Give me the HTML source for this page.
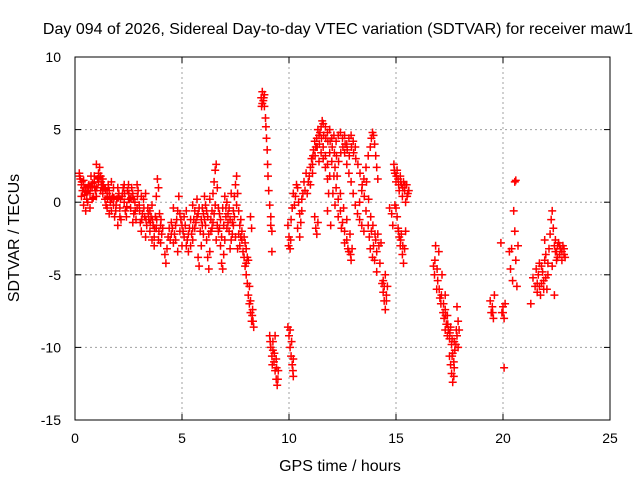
<!DOCTYPE html>
<html><head><meta charset="utf-8"><style>
body{margin:0;background:#fff;}
svg{display:block;font-family:"Liberation Sans",sans-serif;}
</style></head><body>
<svg id="chart" width="640" height="480">
<text x="338" y="34" font-size="16" text-anchor="middle">Day 094 of 2026, Sidereal Day-to-day VTEC variation (SDTVAR) for receiver maw1</text>
<g id="grid"></g><g id="ticks"></g><g id="marks"></g>
<rect x="75" y="57" width="535" height="363" fill="none" stroke="#000" stroke-width="1"/>
<text x="340" y="471" font-size="16" text-anchor="middle">GPS time / hours</text>
<text x="0" y="0" font-size="16" text-anchor="middle" transform="translate(19,238) rotate(-90)">SDTVAR / TECUs</text>
</svg>
<script>
const xTicks=[0,5,10,15,20,25];
const yTicks=[10,5,0,-5,-10,-15];
const seg1=[[0.2,2],[0.25,1.6],[0.3,1.2],[0.35,0.8],[0.4,1.5],[0.45,0.5],[0.5,1],[0.55,0.2],[0.6,0.8],[0.65,1.2],[0.7,0.6],[0.75,1.8],[0.8,1],[0.85,0.3],[0.9,1.4],[0.95,0.8],[1.0,0.4],[1.05,1.6],[1.1,2],[1.15,2.4],[1.2,1.8],[1.25,1.2],[1.3,0.6],[1.35,1],[1.4,0.2],[1.45,-0.2],[1.5,0.6],[1.55,1.2],[1.6,0.8],[1.65,0],[1.7,-0.6],[1.75,0.4],[1.8,-0.2],[1.85,-1],[1.9,-0.6],[1.95,0.2],[2.0,1],[2.05,0.6],[2.1,-0.4],[2.15,-1.2],[2.2,0.4],[2.25,1],[2.3,0],[2.35,-0.6],[2.4,-1],[2.45,0.8],[2.5,1.2],[2.55,0.2],[2.6,-0.4],[2.65,1],[2.7,0.6],[2.75,-0.8],[2.8,0],[2.85,-1.2],[2.9,-0.4],[2.95,0.8],[3.0,-0.2],[3.05,-1.4],[3.1,-2],[3.15,-0.8],[3.2,0.2],[3.25,-1],[3.3,-2.4],[3.35,-1.6],[3.4,-0.4],[3.45,-1.2],[3.5,-2],[3.55,-1],[3.6,-0.2],[3.65,-1.6],[3.7,-2.4],[3.75,-1],[3.8,0.4],[3.85,1.6],[3.9,1],[3.95,-0.8],[4.0,-1.6],[4.05,-2.2],[4.1,-1.8]];
const seg2=[[0.3,0.4],[0.4,-0.2],[0.5,-0.6],[0.6,0],[0.7,-0.4],[0.8,0.2],[0.9,1.8],[1.0,2.6],[1.1,1.4],[1.2,0.8],[1.3,1.6],[1.5,-0.4],[1.6,-0.8],[1.7,1.4],[1.8,1],[2.0,-1.6],[2.1,-1],[2.3,1.2],[2.5,0.2],[2.7,-1.4],[2.9,1.2],[3.1,0.4],[3.3,0.6],[3.5,-0.6],[3.6,-2.6],[3.7,-3],[3.8,-1.8],[3.9,-2.6],[4.0,-2.8],[4.2,-3.6],[4.25,-4.2],[4.3,-3.2],[4.35,-2.4],[4.4,-1.8],[4.5,-2.2],[4.6,-2.8],[4.7,-1.6],[4.8,-0.6],[4.85,0.4],[4.9,-0.8],[5.0,-1.6],[5.1,-2.4],[5.2,-3],[5.3,-2.2],[5.4,-1.2],[5.5,-0.2]];
const seg3=[[4.5,-1.4],[4.6,-0.4],[4.7,-2.6],[4.8,-3.4],[4.9,-2],[5.0,-3],[5.1,-1],[5.2,-0.6],[5.3,-3.4],[5.4,-3],[5.5,-2.6],[5.6,-1.8],[5.7,-1],[5.75,-3.8],[5.8,-4.4],[5.9,-3],[5.95,-1.6],[6.0,-0.8],[6.05,0.4],[6.1,-1.6],[6.15,-2.6],[6.2,-3.8],[6.25,-4.6],[6.3,-3.4],[6.35,-2],[6.4,-0.6],[6.45,0.6],[6.5,1.4],[6.55,2.2],[6.6,2.6],[6.65,1],[6.7,-0.4],[6.75,-1.8],[6.8,-3],[6.85,-4.2],[6.9,-4.6],[6.95,-3.6],[7.0,-2.6],[7.05,-1],[7.1,0],[7.15,-0.8],[7.2,-2],[7.25,-3.2],[7.3,-2.6],[7.35,-1.4],[7.4,-0.6],[7.45,0.4],[7.5,1.2],[7.55,1.8],[7.6,0.6],[7.65,-0.6],[7.7,-1.6],[7.75,-2.4]];
const seg4=[[5.5,-1.8],[5.6,-0.6],[5.7,0.2],[5.8,-0.4],[5.9,-1.2],[6.0,-2.2],[6.1,-0.2],[6.2,-1],[6.3,0.2],[6.4,-1.8],[6.5,-0.8],[6.6,-2.6],[6.7,-2],[6.8,-1.2],[6.9,-0.4],[7.0,0.4],[7.1,-1.8],[7.2,-0.4],[7.3,0.6],[7.4,-1.6],[7.5,-2.4],[7.6,-3.2],[7.7,-3],[7.8,-2.6],[7.85,-3.4],[7.9,-3.8],[7.95,-4.4],[8.0,-5],[8.05,-5.6],[8.1,-6.4],[8.15,-7],[8.2,-7.6],[8.25,-8.2],[8.3,-7.4],[8.35,-8.6],[8.0,-3.2],[8.1,-4],[7.95,-2.8],[8.2,-1],[8.25,-1.8]];
const seg5=[[8.7,7.2],[8.75,7.6],[8.8,7],[8.85,6.6],[8.9,5.8],[8.95,4.4],[8.98,3.6],[9.0,2.6],[9.02,1.8],[9.05,0.8],[9.1,-0.2],[9.15,-1],[9.2,-2],[9.1,-9.2],[9.15,-10],[9.2,-10.6],[9.25,-9.6],[9.3,-11],[9.35,-11.6],[9.4,-12.2],[9.45,-12.6],[9.5,-11.6],[9.4,-10.8],[9.35,-9.2],[9.25,-10.2],[8.75,6.8],[8.85,7.4],[9.15,-1.6],[9.2,-3.4]];
const seg6=[[9.95,-8.6],[10.0,-9.2],[10.05,-10],[10.1,-10.6],[10.15,-11.2],[10.2,-12],[10.2,-10.8],[10.05,-8.8],[9.95,-1.6],[10.0,-2.4],[10.05,-3.2],[10.1,-1.2],[10.15,-0.4],[10.2,0.6],[10.25,-0.2],[10.3,0.4],[10.35,1.2],[10.4,1],[10.45,0],[10.5,-0.8],[10.55,-1.4],[10.6,-0.6],[10.65,0.6],[10.7,1.4],[10.8,2],[10.9,1.4],[11.0,2.4],[11.05,3],[11.1,2.6],[11.15,3.6],[11.2,4.2],[11.25,3.8],[11.3,4.4],[11.35,5],[11.4,4.6],[11.5,5.2],[11.55,5.6],[11.6,5.4],[11.7,5.2],[11.8,4.8],[11.9,5],[12.0,4.4],[12.1,4.6],[12.2,4.2],[12.3,4.6],[12.4,4.8],[12.5,4.4],[12.6,4.6],[12.7,4],[12.8,4.4],[12.9,4.6],[13.0,4.2],[13.1,3.8],[11.2,-1],[11.25,-1.8],[11.3,-2.2],[11.35,-1.4],[11.1,2],[11.0,1.2]];
const seg7=[[11.4,2.8],[11.5,3.4],[11.6,3.8],[11.7,3.2],[11.8,2.6],[11.9,3.4],[12.0,2.8],[12.1,1.8],[12.2,1],[12.3,0.2],[12.4,-0.6],[12.5,-1.4],[12.6,-2],[12.7,-2.6],[12.8,-3.4],[12.9,-4],[12.95,-3.2],[12.85,-2.2],[12.7,-1.2],[12.55,-0.4],[12.4,0.6],[12.25,1.8],[12.15,2.4],[11.9,1.8],[11.85,0.6],[11.8,-0.6],[11.95,-1.6]];
const seg8=[[12.6,3.4],[12.7,2.6],[12.8,2],[12.9,1.4],[13.0,0.6],[13.1,-0.2],[13.2,-0.8],[13.3,-1.2],[13.4,-1.6],[13.5,-2],[13.3,0],[13.4,0.8],[13.5,1.6],[13.6,2.4],[13.7,3.2],[13.8,3.8],[13.85,4.4],[13.9,4.8],[13.95,4.6],[14.0,4],[14.05,3.2],[14.1,2.4],[14.15,1.6],[13.6,-0.6],[13.7,-1.6],[13.75,-2.4],[13.8,-3.2],[13.85,-2],[13.9,-3.8],[13.95,-3],[14.0,-4],[14.05,-2.6],[14.1,-3.4],[14.15,-2.2],[14.2,-3],[14.25,-4.2],[14.3,-2.8],[14.1,-4.8],[14.35,-5.6],[14.4,-6.2],[14.45,-6.8],[14.5,-7.4],[14.55,-6.4],[14.6,-5.8],[14.5,-5]];
const seg9=[[14.9,2.6],[14.95,2],[15.0,1.4],[15.05,2.2],[15.1,1.6],[15.15,0.8],[15.2,1.8],[15.25,1.2],[15.3,0.4],[15.35,1.4],[15.4,0.8],[15.45,0],[15.5,1.2],[15.55,0.6],[15.0,-0.4],[15.05,-1],[15.1,-1.8],[15.15,-2.4],[15.2,-3],[15.25,-2.2],[15.3,-3.6],[15.35,-4.2],[15.4,-3.2],[15.45,-2],[14.95,-0.2],[14.8,-0.8],[14.85,-1.6],[14.7,-0.4]];
const seg10=[[16.75,-4.4],[16.8,-5],[16.85,-3],[16.9,-6],[16.95,-5.4],[17.0,-3.4],[17.05,-6.6],[17.1,-7],[17.15,-5],[17.2,-7.6],[17.25,-8],[17.3,-7.4],[17.35,-8.4],[17.4,-7.8],[17.45,-8.8],[17.5,-9.4],[17.55,-8.6],[17.6,-9.8],[17.65,-10.4],[17.7,-11],[17.75,-10.2],[17.4,-9.2],[17.3,-8.8],[17.5,-10.6],[17.55,-11.2],[17.6,-11.8],[17.65,-12.4],[17.7,-12],[17.8,-9.8],[17.85,-9.2],[17.9,-10],[17.9,-8.2],[17.85,-7.2],[17.95,-8.8],[17.3,-6.4]];
const seg11=[[19.4,-6.8],[19.45,-7.6],[19.5,-7.2],[19.55,-8],[19.6,-6.4],[19.9,-2.8],[19.95,-7.6],[20.0,-7.2],[20.05,-8],[20.1,-7],[20.05,-11.4],[20.3,-3.4],[20.35,-4.6],[20.4,-3.2],[20.45,-5.4],[20.5,-0.6],[20.55,-2],[20.6,-4],[20.65,-5.8],[20.6,1.5],[20.55,1.4],[20.7,-3]];
const seg12=[[21.4,-5.2],[21.5,-5.8],[21.55,-4.6],[21.6,-6.2],[21.65,-5],[21.7,-4.2],[21.75,-6.4],[21.8,-5.6],[21.85,-4.8],[21.9,-5.4],[21.95,-4],[22.0,-3.6],[22.05,-6],[22.1,-5],[22.15,-3.2],[22.2,-2.2],[22.25,-1.2],[22.3,-0.6],[22.35,-1.8],[22.4,-3],[22.45,-2.6],[22.5,-3.4],[22.55,-3.8],[22.6,-2.8],[22.65,-3.6],[22.7,-3.2],[22.75,-4],[22.8,-3],[22.85,-3.6],[22.3,-4.4],[22.4,-6.4],[21.95,-2.6],[21.3,-7]];
const seg13=[[0.22,1.8],[0.32,1.4],[0.42,1],[0.52,0.7],[0.62,1.1],[0.72,1],[0.82,1.3],[0.92,1.1],[1.02,1],[1.12,1.7],[1.22,1.4],[1.32,1.2],[1.42,0.9],[1.52,0.3],[1.62,0.4],[1.72,0.2],[1.82,0.3],[1.92,-0.2],[2.02,0.3],[2.12,0.2],[2.22,0.6],[2.32,0.6],[2.42,-0.3],[2.52,0.6],[2.62,0.3],[2.72,0.2],[2.82,-0.6],[2.92,0.4],[3.02,-0.6],[3.12,-1.2],[3.22,-0.4],[3.32,-1.2],[3.42,-0.8],[3.52,-1.4],[3.62,-1.2],[3.72,-1.8],[3.82,-1.2],[3.92,-2],[4.02,-1.2],[4.45,-2.6],[4.55,-1.8],[4.65,-2.2],[4.75,-1.2],[4.95,-1.2],[5.05,-2],[5.15,-1.6],[5.25,-2.6],[5.35,-1.8],[5.45,-2.2],[5.55,-1.2],[5.65,-1.4],[5.75,-0.8],[5.85,-2],[5.95,-0.4],[6.05,-1.2],[6.15,-0.6],[6.25,-2.2],[6.35,-1.2],[6.45,-1.4],[6.55,-0.2],[6.65,-1.6],[6.75,-0.8],[6.85,-2.4],[6.95,-1.6],[7.05,-0.4],[7.15,-1.4],[7.25,-1.2],[7.35,-2.2],[7.45,-1],[7.55,-0.2],[7.65,-2.2],[7.75,-1.2],[7.8,-2],[7.9,-2.4],[8.0,-4.2],[8.05,-3.8],[8.15,-5.8],[8.2,-6.8],[8.28,-7.8],[8.32,-8.2]];
const seg14=[[11.45,4.8],[11.52,4.4],[11.62,4.6],[11.72,4.4],[11.82,4.2],[11.92,4.2],[12.02,3.8],[12.12,3.4],[12.22,3.2],[12.32,2.8],[12.42,3.4],[12.52,3.8],[12.62,4],[12.72,3.6],[12.82,3.2],[12.92,3.8],[13.02,3.4],[13.12,3],[13.22,2.6],[13.32,2],[13.42,1.2],[13.52,0.4],[13.62,1.4],[13.72,0.2],[13.82,-1],[13.92,-1.6],[14.02,-2.2],[11.6,3],[11.7,2.4],[11.8,1.6],[12.05,0.6],[12.15,-0.2],[12.3,-1],[12.45,-1.8],[12.6,-2.8],[12.75,-3.2],[12.88,-3.6],[10.4,-1.8],[10.5,-2.4],[10.6,0.2],[10.75,0.8],[10.85,0.6],[10.95,1.8],[11.12,3.2],[11.22,3.2],[11.32,3.8],[11.42,4],[9.98,-3],[10.08,-2.6],[10.12,-9.6],[10.18,-11.6],[9.12,-9.6],[9.22,-11.2],[9.32,-10.4],[9.42,-11.4],[9.48,-12.2],[8.72,6.6],[8.82,7.2],[8.92,5.2]];
const seg15=[[14.92,2.2],[15.02,1.8],[15.12,1.2],[15.22,1.4],[15.32,1],[15.42,1.2],[15.52,0.4],[15.6,0.8],[15.12,-2],[15.22,-2.6],[15.32,-3],[14.4,-5.4],[14.45,-5.8],[14.55,-6.8],[16.82,-4],[16.92,-4.6],[17.02,-6],[17.12,-6.4],[17.22,-7],[17.32,-7.8],[17.42,-8.4],[17.52,-9],[17.62,-10.6],[17.72,-11.4],[17.62,-9.4],[17.72,-9.6],[17.82,-8.8],[22.45,-3.4],[22.55,-3],[22.65,-3],[22.75,-3.4],[22.85,-3.2],[22.9,-3.8],[22.5,-4],[21.6,-5.6],[21.7,-5.8],[21.8,-4.4],[21.9,-6],[22.0,-5.2],[22.1,-4.2],[20.0,-7.6],[19.52,-7.6]];
const series=[seg1,seg2,seg3,seg4,seg5,seg6,seg7,seg8,seg9,seg10,seg11,seg12,seg13,seg14,seg15];
const NS="http://www.w3.org/2000/svg";
const L=75,R=610,T=57,B=420;
const xs=t=>L+(t-0)/25*(R-L);
const ys=v=>B-(v+15)/25*(B-T);
const grid=document.getElementById('grid'),ticks=document.getElementById('ticks'),marks=document.getElementById('marks');
function mk(tag,a,p){const e=document.createElementNS(NS,tag);for(const k in a)e.setAttribute(k,a[k]);p.appendChild(e);return e;}
xTicks.forEach(t=>{const x=xs(t);
 if(t>0&&t<25){const g=mk('line',{x1:x,x2:x,y1:T,y2:B,stroke:'#a0a0a0','stroke-dasharray':'2,3'},grid);
 
 }
 mk('line',{x1:x,x2:x,y1:B,y2:B-6,stroke:'#000'},ticks);mk('line',{x1:x,x2:x,y1:T,y2:T+6,stroke:'#000'},ticks);
 const tx=mk('text',{x:x,y:443,'font-size':14,'text-anchor':'middle'},ticks);tx.textContent=t;
 
 });
yTicks.forEach(v=>{const y=ys(v);
 if(v>-15&&v<10){const g=mk('line',{x1:L,x2:R,y1:y,y2:y,stroke:'#a0a0a0','stroke-dasharray':'2,3'},grid);
 
 }
 mk('line',{x1:L,x2:L+6,y1:y,y2:y,stroke:'#000'},ticks);mk('line',{x1:R,x2:R-6,y1:y,y2:y,stroke:'#000'},ticks);
 const tx=mk('text',{x:61,y:y+5,'font-size':14,'text-anchor':'end'},ticks);tx.textContent=v;
 
 });
let d='';
series.forEach(s=>s.forEach(([t,v])=>{const x=xs(t),y=ys(v);d+=`M${(x-4).toFixed(1)} ${y.toFixed(1)}h8M${x.toFixed(1)} ${(y-4).toFixed(1)}v8`;}));
const p=mk('path',{d:d,stroke:'#ff0000','stroke-width':1.5,fill:'none'},marks);


</script>
</body></html>
